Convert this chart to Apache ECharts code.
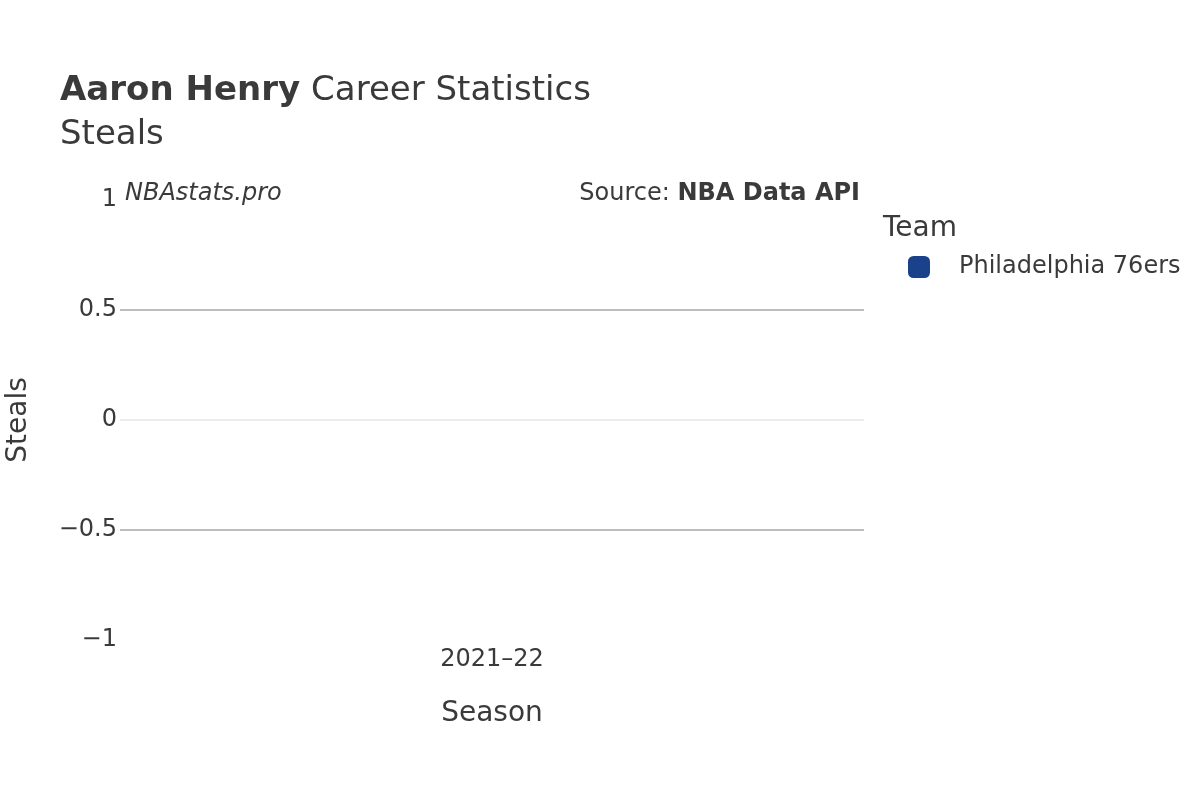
<!DOCTYPE html>
<html><head><meta charset="utf-8">
<script src="https://cdn.jsdelivr.net/npm/echarts@6/dist/echarts.min.js"></script>
<style>html,body{margin:0;padding:0;background:#fff}#c{width:1200px;height:800px}</style>
</head><body><div id="c"></div>
<script>
const seasons = ['2021–22'];
const teamName = 'Philadelphia 76ers';
const steals = [0];
const yTicks = [-1, -0.5, 0, 0.5, 1];

const FONT = 'DejaVu Sans';
const TXT = '#3a3a3a';
const chart = echarts.init(document.getElementById('c'));
chart.setOption({
  backgroundColor: '#fff',
  textStyle: { fontFamily: FONT, color: TXT },
  title: {
    left: 55, top: 69, padding: 5,
    text: '{b|Aaron Henry}{n|Career Statistics}',
    subtext: 'Steals',
    itemGap: 10,
    textStyle: { rich: {
      b: { fontFamily: FONT, fontWeight: 'bold', fontSize: 34, color: TXT },
      n: { fontFamily: FONT, fontWeight: 'normal', fontSize: 34, color: TXT, padding: [0, 0, 0, 11] }
    }},
    subtextStyle: { fontFamily: FONT, fontSize: 34, color: TXT }
  },
  legend: {
    left: 903, top: 250, orient: 'vertical',
    icon: 'roundRect', itemWidth: 22, itemHeight: 22,
    textStyle: { fontFamily: FONT, fontSize: 24, color: TXT, padding: [0, 0, 0, 24] },
    data: [teamName]
  },
  graphic: [
    { type: 'text', left: 883, top: 215, style: { text: 'Team', fontFamily: FONT, fontSize: 28, fill: TXT } },
    { type: 'text', left: 125, top: 182, style: { text: 'NBAstats.pro', fontFamily: FONT, fontStyle: 'italic', fontSize: 24, fill: TXT } },
    { type: 'text', right: 340, top: 182, style: { text: '{n|Source: }{b|NBA Data API}', rich: {
        n: { fontFamily: FONT, fontSize: 24, fill: TXT },
        b: { fontFamily: FONT, fontSize: 24, fontWeight: 'bold', fill: TXT } } } }
  ],
  grid: { left: 120, right: 336, top: 200, bottom: 160, containLabel: false, outerBoundsMode: 'none' },
  xAxis: {
    type: 'category', data: seasons,
    name: 'Season', nameLocation: 'middle', nameGap: 60,
    nameTextStyle: { fontFamily: FONT, fontSize: 28, color: TXT },
    axisLine: { show: false }, axisTick: { show: false },
    axisLabel: { fontFamily: FONT, fontSize: 24, color: TXT, margin: 8 }
  },
  yAxis: {
    type: 'value', min: yTicks[0], max: yTicks[yTicks.length - 1], interval: 0.5,
    name: 'Steals', nameLocation: 'middle', nameGap: 87,
    nameTextStyle: { fontFamily: FONT, fontSize: 28, color: TXT },
    axisLine: { show: false }, axisTick: { show: false },
    axisLabel: { fontFamily: FONT, fontSize: 24, color: TXT, margin: 3,
      formatter: v => (v < 0 ? '\u2212' + Math.abs(v) : String(v)) },
    splitLine: { lineStyle: { color: ['rgba(0,0,0,0)', '#bdbdbd', '#ebebeb', '#bdbdbd', 'rgba(0,0,0,0)'], width: 2 } }
  },
  series: [{
    name: teamName, type: 'bar', data: steals, barWidth: '80%',
    itemStyle: { color: '#1a428a' }
  }]
});
</script></body></html>
